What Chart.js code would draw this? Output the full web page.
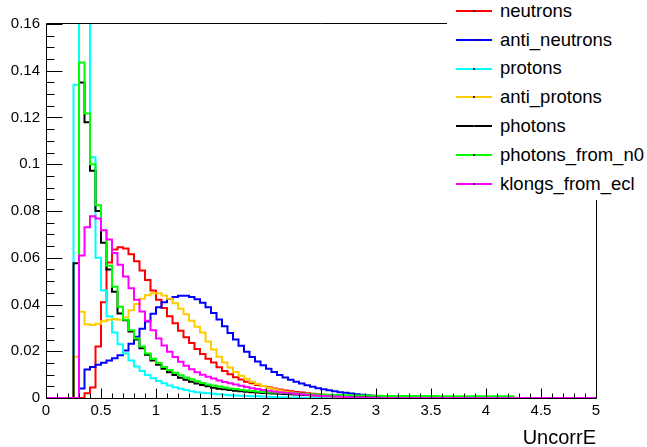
<!DOCTYPE html>
<html>
<head>
<meta charset="utf-8">
<script src="https://cdn.jsdelivr.net/npm/chart.js@4.4.1/dist/chart.umd.min.js"></script>
<style>
  html, body { margin:0; padding:0; background:#fff; }
  #wrap { position:relative; width:647px; height:447px; overflow:hidden; font-family:"Liberation Sans", Arial, sans-serif; }
  #c { position:absolute; left:0; top:0; }
  #legend { position:absolute; left:447px; top:0; width:200px; height:200px; background:#fff; }
  .row { position:absolute; left:0; width:200px; height:20px; }
  .mk { position:absolute; left:9px; width:36px; height:2px; }
  .dot { position:absolute; left:17px; top:0; width:2px; height:2px; background:#222; }
  .lt { position:absolute; left:53px; font-size:18.5px; line-height:18.5px; color:#000; white-space:nowrap; }
  #xtitle { position:absolute; right:51px; top:427px; font-size:20px; line-height:20px; color:#000; }
</style>
</head>
<body>
<div id="wrap">
  <canvas id="c" width="647" height="447"></canvas>
  <div id="legend"></div>
  <div id="xtitle">UncorrE</div>
</div>
<script>
// ---- data (bins of width 0.05 from 0 to 5) ----
const binLow = 0;
const binWidth = 0.05;
const nBins = 100;
const xTickLabels = ["0","0.5","1","1.5","2","2.5","3","3.5","4","4.5","5"];
const yTickLabels = ["0","0.02","0.04","0.06","0.08","0.1","0.12","0.14","0.16"];
const seriesNames = ["neutrons","anti_neutrons","protons","anti_protons","photons","photons_from_n0","klongs_from_ecl"];
const seriesColors = ["#ff0000","#0000ff","#00ffff","#ffcc00","#000000","#00ff00","#ff00ff"];

const neutrons = [
  0,0,0,0,0,0,0,0.002,0.0045,0.022,
  0.041,0.058,0.0635,0.0645,0.064,0.0615,0.0585,0.0545,0.0505,0.046,
  0.042,0.0385,0.035,0.032,0.0288,0.026,0.0235,0.021,0.0188,0.0168,
  0.0152,0.0132,0.0116,0.0102,0.0089,0.0079,0.007,0.0063,0.0056,0.0051,
  0.0046,0.0041,0.0036,0.0032,0.0029,0.0026,0.0023,0.002,0.0018,0.0016,
  0.0014,0.0012,0.0011,0.0009,0.0008,0.0007,0.0006,0.0005,0.0004,0.0004,
  0.0003,0.0003,0.0002,0.0002,0.0001,0.0001,0,0,0,0,
  0,0,0,0,0,0,0,0,0,0,
  0,0,0,0,0,0,0,0,0,0,
  0,0,0,0,0,0,0,0,0,0
];
const anti_neutrons = [
  0,0,0,0,0,0,0.0041,0.0122,0.0133,0.0142,
  0.0151,0.016,0.017,0.0183,0.0203,0.0232,0.0262,0.0296,0.0327,0.036,
  0.0388,0.041,0.0424,0.0432,0.0437,0.0437,0.0432,0.0422,0.0408,0.0388,
  0.0364,0.0336,0.0307,0.0278,0.025,0.0223,0.0198,0.0175,0.0156,0.014,
  0.0125,0.0111,0.0098,0.0088,0.0078,0.007,0.0062,0.0055,0.0048,0.0042,
  0.0037,0.0033,0.0029,0.0025,0.0022,0.0019,0.0016,0.0014,0.0012,0.001,
  0.0008,0.0007,0.0006,0.0005,0.0004,0.0003,0.0002,0.0002,0.0001,0.0001,
  0,0,0,0,0,0,0,0,0,0,
  0,0,0,0,0,0,0,0,0,0,
  0,0,0,0,0,0,0,0,0,0
];
const protons = [
  0,0,0,0,0,0.134,0.21,0.2,0.103,0.06,
  0.046,0.035,0.028,0.023,0.019,0.016,0.0135,0.0115,0.0098,0.0085,
  0.0073,0.0063,0.0054,0.0046,0.004,0.0034,0.0029,0.0025,0.0022,0.002,
  0.0018,0.0016,0.0014,0.0012,0.0011,0.001,0.0009,0.0008,0.0007,0.0006,
  0.0005,0.0004,0.0003,0.0003,0.0002,0.0002,0.0001,0.0001,0.0001,0.0001,
  0.0001,0.0001,0.0001,0.0001,0.0001,0.0001,0.0001,0,0,0,
  0,0,0,0,0,0,0,0,0,0,
  0,0,0,0,0,0,0,0,0,0,
  0,0,0,0,0,0,0,0,0,0,
  0,0,0,0,0,0,0,0,0,0
];
const anti_protons = [
  0,0,0,0,0,0.0177,0.0369,0.0315,0.0312,0.0318,
  0.0328,0.0335,0.0338,0.0335,0.0345,0.0375,0.0402,0.0425,0.044,0.0448,
  0.0448,0.0438,0.0425,0.0405,0.0382,0.0358,0.033,0.0305,0.028,0.0242,
  0.0207,0.0177,0.0152,0.013,0.0111,0.0095,0.0082,0.007,0.006,0.0051,
  0.0044,0.0037,0.0032,0.0027,0.0023,0.0019,0.0016,0.0013,0.0011,0.0009,
  0.0008,0.0007,0.0006,0.0005,0.0004,0.0003,0.0003,0.0002,0.0002,0.0001,
  0.0001,0,0,0,0,0,0,0,0,0,
  0,0,0,0,0,0,0,0,0,0,
  0,0,0,0,0,0,0,0,0,0,
  0,0,0,0,0,0,0,0,0,0
];
const photons = [
  0,0,0,0,0,0.0576,0.135,0.118,0.0972,0.08,
  0.0664,0.055,0.0455,0.0362,0.0333,0.0285,0.025,0.0213,0.0185,0.016,
  0.0142,0.0125,0.011,0.0098,0.0087,0.0078,0.007,0.0062,0.0056,0.005,
  0.0044,0.004,0.0037,0.0034,0.0031,0.0029,0.0027,0.0025,0.0023,0.0021,
  0.002,0.0019,0.0018,0.0017,0.0016,0.0015,0.0014,0.0013,0.0012,0.0012,
  0.0011,0.0011,0.001,0.001,0.0009,0.0009,0.0009,0.0008,0.0008,0.0008,
  0.0007,0,0,0,0,0,0,0,0,0,
  0,0,0,0,0,0,0,0,0,0,
  0,0,0,0,0,0,0,0,0,0,
  0,0,0,0,0,0,0,0,0,0
];
const photons_from_n0 = [
  0,0,0,0,0,0,0.1435,0.1217,0.1,0.0825,
  0.0718,0.0566,0.0476,0.039,0.0335,0.029,0.0255,0.022,0.019,0.0168,
  0.015,0.0133,0.012,0.0108,0.0097,0.0088,0.008,0.0072,0.0064,0.0058,
  0.0053,0.0049,0.0045,0.0041,0.0038,0.0035,0.0032,0.003,0.0028,0.0026,
  0.0024,0.0023,0.0022,0.0021,0.002,0.0019,0.0018,0.0017,0.0016,0.0015,
  0.0014,0.0014,0.0013,0.0013,0.0012,0.0012,0.0011,0.0011,0.0011,0.001,
  0.001,0.0009,0.0009,0.0009,0.0009,0.0009,0.0009,0.0009,0.0009,0.0009,
  0.0009,0.0008,0.0008,0.0008,0.0008,0.0008,0.0008,0.0008,0.0008,0.0008,
  0.0008,0.0008,0.0008,0.0008,0.0008,0,0,0,0,0,
  0,0,0,0,0,0,0,0,0,0
];
const klongs_from_ecl = [
  0,0,0,0,0,0,0.061,0.073,0.0778,0.0768,
  0.0718,0.0678,0.062,0.057,0.052,0.047,0.042,0.037,0.033,0.029,
  0.0255,0.0225,0.0198,0.0175,0.0155,0.0138,0.0123,0.011,0.0099,0.0091,
  0.0083,0.0075,0.0068,0.0063,0.0058,0.0052,0.0047,0.0042,0.0038,0.0034,
  0.0031,0.0028,0.0025,0.0022,0.002,0.0018,0.0016,0.0014,0.0012,0.001,
  0.0009,0.0007,0.0006,0.0005,0.0004,0.0003,0.0002,0.0002,0.0001,0.0001,
  0,0,0,0,0,0,0,0,0,0,
  0,0,0,0,0,0,0,0,0,0,
  0,0,0,0,0,0,0,0,0,0,
  0,0,0,0,0,0,0,0,0,0
];
const seriesValues = [neutrons, anti_neutrons, protons, anti_protons, photons, photons_from_n0, klongs_from_ecl];

// ---- build ----
const binEdges = [];
for (let i = 0; i <= nBins; i++) binEdges.push(+(binLow + i * binWidth).toFixed(4));
const xMin = parseFloat(xTickLabels[0]), xMax = parseFloat(xTickLabels[xTickLabels.length - 1]);
const yMin = parseFloat(yTickLabels[0]), yMax = parseFloat(yTickLabels[yTickLabels.length - 1]);
const xStep = parseFloat(xTickLabels[1]) - xMin;
const yStep = parseFloat(yTickLabels[1]) - yMin;

function histPoints(vals) {
  const pts = vals.map((v, i) => ({ x: binEdges[i], y: v }));
  pts.push({ x: binEdges[vals.length], y: vals[vals.length - 1] });
  return pts;
}

const FONT = '"Liberation Sans", Arial, sans-serif';
const datasets = seriesNames.map((name, k) => ({
  label: name,
  data: histPoints(seriesValues[k]),
  borderColor: seriesColors[k],
  backgroundColor: seriesColors[k],
  borderWidth: 2,
  fill: false,
  stepped: true,
  pointRadius: 0,
  tension: 0,
  order: seriesNames.length - 1 - k
}));

function fmt(v) { return String(parseFloat(Number(v).toFixed(4))); }

const framePlugin = {
  id: 'rootFrame',
  afterDatasetsDraw(chart) {
    const { ctx, chartArea: a, scales: { x, y } } = chart;
    ctx.save();
    ctx.strokeStyle = '#000';
    ctx.lineWidth = 1;
    ctx.beginPath();
    const L = Math.round(a.left) + 0.5, R = Math.round(a.right) + 0.5;
    const T = Math.round(a.top) - 0.5, B = Math.round(a.bottom) + 0.5;
    ctx.moveTo(L, T); ctx.lineTo(L, B); ctx.lineTo(R, B); ctx.lineTo(R, T); ctx.lineTo(L, T);
    // x ticks (inside)
    for (let v = xMin; v <= xMax + 1e-9; v += xStep / 5) {
      const px = Math.round(x.getPixelForValue(v)) + 0.5;
      const major = Math.abs(v / xStep - Math.round(v / xStep)) < 1e-6;
      ctx.moveTo(px, B); ctx.lineTo(px, B - (major ? 10 : 5));
    }
    // y ticks (inside)
    for (let v = yMin; v <= yMax + 1e-9; v += yStep / 4) {
      const py = Math.round(y.getPixelForValue(v)) + 0.5;
      const major = Math.abs(v / yStep - Math.round(v / yStep)) < 1e-6;
      ctx.moveTo(L, py); ctx.lineTo(L + (major ? 16 : 8), py);
    }
    ctx.stroke();
    ctx.restore();
  }
};

new Chart(document.getElementById('c').getContext('2d'), {
  type: 'line',
  data: { datasets },
  options: {
    responsive: false,
    animation: false,
    devicePixelRatio: 1,
    layout: { padding: { top: 24, right: 51, left: 0, bottom: 0 } },
    plugins: { legend: { display: false }, tooltip: { enabled: false }, title: { display: false } },
    scales: {
      x: {
        type: 'linear', min: xMin, max: xMax,
        border: { display: false },
        grid: { display: false, drawTicks: false },
        ticks: { stepSize: xStep, padding: 4, color: '#000', font: { family: FONT, size: 15 }, autoSkip: false, maxRotation: 0, callback: fmt },
        afterFit(s) { s.height = 49; }
      },
      y: {
        type: 'linear', min: yMin, max: yMax,
        border: { display: false },
        grid: { display: false, drawTicks: false },
        ticks: { stepSize: yStep, padding: 6, color: '#000', font: { family: FONT, size: 15 }, autoSkip: false, callback: fmt },
        afterFit(s) { s.width = 46; }
      }
    }
  },
  plugins: [framePlugin]
});

// ---- legend (HTML text) ----
const legend = document.getElementById('legend');
seriesNames.forEach((name, k) => {
  const base = 17.3 + 28.9 * k;
  const row = document.createElement('div');
  row.className = 'row';
  row.style.top = '0px';
  const mk = document.createElement('div');
  mk.className = 'mk';
  mk.style.top = (base - 7.6) + 'px';
  mk.style.background = seriesColors[k];
  const dot = document.createElement('div');
  dot.className = 'dot';
  mk.appendChild(dot);
  const t = document.createElement('div');
  t.className = 'lt';
  t.style.top = (base - 15.66) + 'px';
  t.textContent = name;
  row.appendChild(mk);
  row.appendChild(t);
  legend.appendChild(row);
});
</script>
</body>
</html>
